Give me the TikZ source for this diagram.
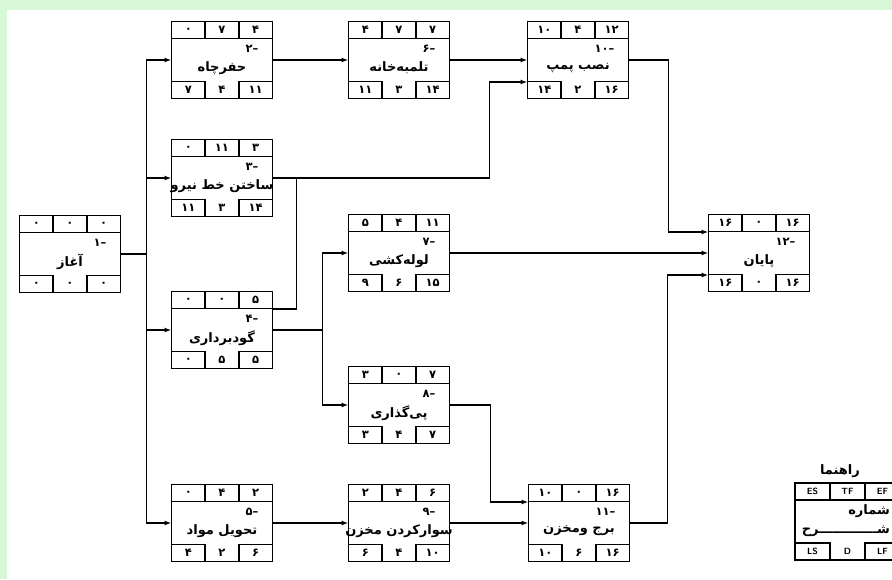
\documentclass[tikz,border=0pt]{standalone}
\usepackage{fontspec}
\newfontfamily\fa[Script=Arabic]{DejaVu Sans}
\TeXXeTstate=1
\usetikzlibrary{arrows.meta,calc}
\definecolor{bggreen}{RGB}{214,248,214}
\newcommand\actnode[5]{%
  \node[box] (#1) at (#2,#3) {};
  \draw[inner] ($(#1.north west)+(0,17)$) -- ($(#1.north east)+(0,17)$);
  \draw[inner] ($(#1.north west)+(33.7,0)$) -- ++(0,17);
  \draw[inner] ($(#1.north west)+(67.3,0)$) -- ++(0,17);
  \draw[inner] ($(#1.south west)+(0,-17)$) -- ++(33.7,0) -- ++(0,17);
  \draw[inner] ($(#1.south east)+(0,-17)$) -- ++(-33.7,0) -- ++(0,17);
  \node[num,anchor=east] (#1no) at ($(#1.north east)+(-14,27)$) {–#4};
  \node[title] (#1ti) at ($(#1.center)+(0,8)$) {\beginR #5\endR};
}
\newcommand\actvals[7]{%
  \node[cell] (#1a) at ($(#1.north west)+(16.8,8.5)$) {#2};
  \node[cell] (#1b) at ($(#1.north)+(0,8.5)$) {#3};
  \node[cell] (#1c) at ($(#1.north east)+(-16.8,8.5)$) {#4};
  \node[cell] (#1d) at ($(#1.south west)+(16.8,-8.5)$) {#5};
  \node[cell] (#1e) at ($(#1.south)+(0,-8.5)$) {#6};
  \node[cell] (#1f) at ($(#1.south east)+(-16.8,-8.5)$) {#7};
}
\begin{document}
\begin{tikzpicture}[x=1pt,y=-1pt,
  box/.style={draw,line width=1.8pt,minimum width=101pt,minimum height=77pt,inner sep=0pt,outer sep=0pt},
  inner/.style={line width=1.5pt},
  conn/.style={line width=1.4pt},
  arr/.style={conn,-{Latex[length=7pt,width=5pt]}},
  cell/.style={font=\fa\bfseries\fontsize{11.5}{12}\selectfont,inner sep=0pt},
  title/.style={font=\fa\bfseries\fontsize{13}{14}\selectfont,inner sep=0pt},
  num/.style={font=\fa\bfseries\fontsize{11.5}{12}\selectfont,inner sep=0pt},
  lat/.style={font=\sffamily\bfseries\fontsize{9}{9}\selectfont,inner sep=0pt}]
\fill[bggreen] (0,0) rectangle (892,579);
\fill[white] (7,10) rectangle (892,579);
\useasboundingbox (0,0) rectangle (892,579);

\actnode{n1}{70}{254}{۱}{آغاز}
\actvals{n1}{۰}{۰}{۰}{۰}{۰}{۰}
\actnode{n2}{222}{60}{۲}{حفرچاه}
\actvals{n2}{۰}{۷}{۴}{۷}{۴}{۱۱}
\actnode{n3}{222}{178}{۳}{ساختن خط نیرو}
\actvals{n3}{۰}{۱۱}{۳}{۱۱}{۳}{۱۴}
\actnode{n4}{222}{330}{۴}{گودبرداری}
\actvals{n4}{۰}{۰}{۵}{۰}{۵}{۵}
\actnode{n5}{222}{523}{۵}{تحویل مواد}
\actvals{n5}{۰}{۴}{۲}{۴}{۲}{۶}
\actnode{n6}{399}{60}{۶}{تلمبه^^^^200cخانه}
\actvals{n6}{۴}{۷}{۷}{۱۱}{۳}{۱۴}
\actnode{n7}{399}{253}{۷}{لوله^^^^200cکشی}
\actvals{n7}{۵}{۴}{۱۱}{۹}{۶}{۱۵}
\actnode{n8}{399}{405}{۸}{پی^^^^200cگذاری}
\actvals{n8}{۳}{۰}{۷}{۳}{۴}{۷}
\actnode{n9}{399}{523}{۹}{سوارکردن مخزن}
\actvals{n9}{۲}{۴}{۶}{۶}{۴}{۱۰}
\actnode{n10}{578}{60}{۱۰}{نصب پمپ}
\actvals{n10}{۱۰}{۴}{۱۲}{۱۴}{۲}{۱۶}
\actnode{n11}{579}{523}{۱۱}{برج ومخزن}
\actvals{n11}{۱۰}{۰}{۱۶}{۱۰}{۶}{۱۶}
\actnode{n12}{759}{253}{۱۲}{پایان}
\actvals{n12}{۱۶}{۰}{۱۶}{۱۶}{۰}{۱۶}

% connectors
\draw[conn] (n1.east) -- ++(26,0);
\draw[arr] ($(n1.east)+(26,0)$) |- (n2.west);
\draw[arr] ($(n1.east)+(26,0)$) |- (n3.west);
\draw[arr] ($(n1.east)+(26,0)$) |- (n4.west);
\draw[arr] ($(n1.east)+(26,0)$) |- (n5.west);
\draw[arr] (n2.east) -- (n6.west);
\draw[arr] (n6.east) -- (n10.west);
\draw[arr] (n3.east) -- ++(217,0) |- ($(n10.west)+(0,22)$);
\draw[conn] ($(n4.east)+(0,-21)$) -| ($(n3.east)+(24,0)$);
\draw[conn] (n4.east) -- ++(50,0);
\draw[arr] ($(n4.east)+(50,0)$) |- (n7.west);
\draw[arr] ($(n4.east)+(50,0)$) |- (n8.west);
\draw[arr] (n7.east) -- (n12.west);
\draw[arr] (n8.east) -- ++(41,0) |- ($(n11.west)+(0,-21)$);
\draw[arr] (n5.east) -- (n9.west);
\draw[arr] (n9.east) -- (n11.west);
\draw[arr] (n10.east) -- ++(40,0) |- ($(n12.west)+(0,-21)$);
\draw[arr] (n11.east) -- ++(38,0) |- ($(n12.west)+(0,22)$);

% legend
\node[box,minimum width=105pt] (lg) at (847.5,521.5) {};
\draw[inner] ($(lg.north west)+(0,17)$) -- ($(lg.north east)+(0,17)$);
\draw[inner] ($(lg.north west)+(35,0)$) -- ++(0,17);
\draw[inner] ($(lg.north west)+(70,0)$) -- ++(0,17);
\draw[inner] ($(lg.south west)+(0,-17)$) -- ++(35,0) -- ++(0,17);
\draw[inner] ($(lg.south east)+(0,-17)$) -- ++(-35,0) -- ++(0,17);
\node[lat] (lga) at ($(lg.north west)+(17.5,8.5)$) {ES};
\node[lat] (lgb) at ($(lg.north west)+(52.5,8.5)$) {TF};
\node[lat] (lgc) at ($(lg.north west)+(87.5,8.5)$) {EF};
\node[lat] (lgd) at ($(lg.south west)+(17.5,-8.5)$) {LS};
\node[lat] (lge) at ($(lg.south west)+(52.5,-8.5)$) {D};
\node[lat] (lgf) at ($(lg.south west)+(87.5,-8.5)$) {LF};
\node[title] (lgt) at (840,471) {\beginR راهنما\endR};
\node[title,anchor=east] (lgn) at (890,511) {\beginR شماره\endR};
\node[title,anchor=east] (lgs) at (890,531) {\beginR شـــــــــــــرح\endR};
\end{tikzpicture}
\end{document}
